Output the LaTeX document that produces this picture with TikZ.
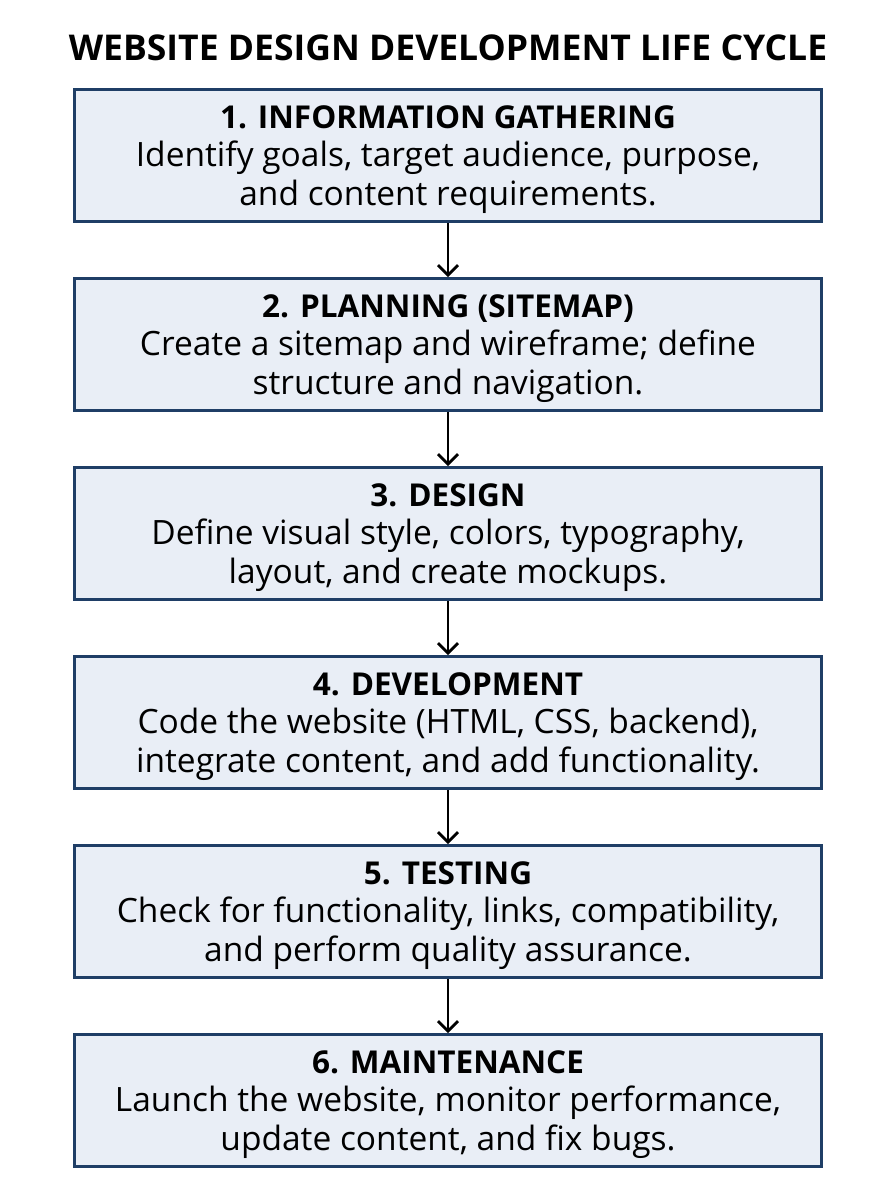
\documentclass[tikz,border=0pt]{standalone}
\usepackage{fontspec}
\setmainfont{Open Sans}
\usetikzlibrary{positioning,chains,arrows.meta}
\definecolor{boxfill}{HTML}{E9EEF6}
\definecolor{boxline}{HTML}{1F3E66}

\begin{document}
\begin{tikzpicture}[x=1pt,y=-1pt]
	\useasboundingbox (0,0) rectangle (896,1200);
	\tikzset{stage/.style={draw=boxline,fill=boxfill,line width=3pt,minimum width=747pt,minimum height=132pt,inner sep=0pt,text depth=0pt,align=center,font=\fontsize{33.5}{38.5}\selectfont}}
	\tikzset{flow/.style={draw=black,line width=2.8pt,-{Straight Barb[length=10pt,width=20pt,line width=2.8pt]}}}
	\newcommand{\stagehead}[1]{{\bfseries\fontsize{31.5}{38.5}\selectfont #1}}

	\node[font=\bfseries\fontsize{35.5}{40}\selectfont] (title) at (448,48) {WEBSITE DESIGN DEVELOPMENT LIFE CYCLE};

	%% the six stages
	\begin{scope}[start chain=1 going below,node distance=54pt]
		\node[on chain=1,stage] (s1) at (448,155.5) {\stagehead{1. INFORMATION GATHERING}\\Identify goals, target audience, purpose,\\and content requirements.};
		\node[on chain=1,stage] (s2) {\stagehead{2. PLANNING (SITEMAP)}\\Create a sitemap and wireframe; define\\structure and navigation.};
		\node[on chain=1,stage] (s3) {\stagehead{3. DESIGN}\\Define visual style, colors, typography,\\layout, and create mockups.};
		\node[on chain=1,stage] (s4) {\stagehead{4. DEVELOPMENT}\\Code the website (HTML, CSS, backend),\\integrate content, and add functionality.};
		\node[on chain=1,stage] (s5) {\stagehead{5. TESTING}\\Check for functionality, links, compatibility,\\and perform quality assurance.};
		\node[on chain=1,stage] (s6) {\stagehead{6. MAINTENANCE}\\Launch the website, monitor performance,\\update content, and fix bugs.};
	\end{scope}

	\path
		(s1) edge[flow] (s2)
		(s2) edge[flow] (s3)
		(s3) edge[flow] (s4)
		(s4) edge[flow] (s5)
		(s5) edge[flow] (s6);
\end{tikzpicture}
\end{document}
